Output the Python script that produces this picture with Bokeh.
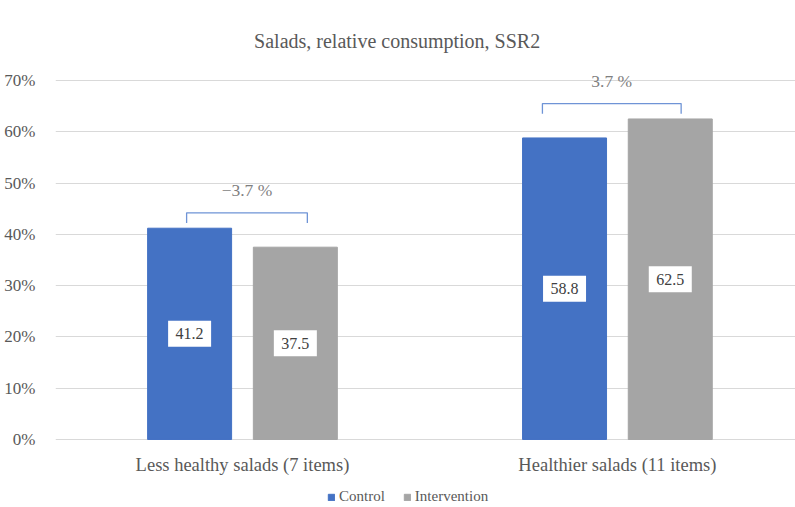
from bokeh.plotting import figure
from bokeh.models import ColumnDataSource, Range1d, FixedTicker, PrintfTickFormatter, Legend, LegendItem
from bokeh.core.properties import value
from bokeh.embed import file_html
from bokeh.resources import INLINE

# ---- data ----
title = "Salads, relative consumption, SSR2"
categories = ["Less healthy salads (7 items)", "Healthier salads (11 items)"]
series = ["Control", "Intervention"]
control = [41.2, 58.8]
intervention = [37.5, 62.5]
diff_labels = ["\u22123.7 %", "3.7 %"]
bracket_top = [44.2, 65.5]
bracket_drop = [2.0, 2.0]
bracket_left = [-0.149, -0.2]
bracket_right = [0.173, 0.17]
diff_text_y = [48.6, 70.0]
y_ticks = [0, 10, 20, 30, 40, 50, 60, 70]

FONT = "Liberation Serif"
BLUE = "#4472C4"
GREY = "#A5A5A5"
TXT = "#595959"

centers = [i + 0.5 for i in range(len(categories))]
off = 0.141
bw = 0.224

p = figure(width=795, height=507, output_backend="svg", toolbar_location=None,
           x_range=Range1d(0.0013, 1.975), y_range=Range1d(-13.26, 85.6),
           min_border_left=55, min_border_right=0, min_border_top=0, min_border_bottom=0)
p.outline_line_color = None
p.background_fill_color = "white"
p.xaxis.visible = False

src_c = ColumnDataSource(dict(x=[c - off for c in centers], top=control, mid=[v / 2 for v in control],
                              lab=[f"{v:.1f}" for v in control]))
src_i = ColumnDataSource(dict(x=[c + off for c in centers], top=intervention, mid=[v / 2 for v in intervention],
                              lab=[f"{v:.1f}" for v in intervention]))

r_c = p.vbar(x="x", top="top", bottom=0, width=bw, source=src_c, fill_color=BLUE, line_color=BLUE)
r_i = p.vbar(x="x", top="top", bottom=0, width=bw, source=src_i, fill_color=GREY, line_color=GREY)

for src in (src_c, src_i):
    p.rect(x="x", y="mid", width=43, height=26, width_units="screen", height_units="screen",
           source=src, fill_color="white", line_color=None)
    p.text(x="x", y="mid", text="lab", source=src, text_align="center", text_baseline="middle",
           text_font=value(FONT), text_font_size="16px", text_color="#404040")

# brackets
xs, ys = [], []
for c, t, d, l, r in zip(centers, bracket_top, bracket_drop, bracket_left, bracket_right):
    xs.append([c + l, c + l, c + r, c + r])
    ys.append([t - d, t, t, t - d])
p.multi_line(xs=xs, ys=ys, line_color="#6F94D6", line_width=1.3)

p.text(x=[c + (l + r) / 2 for c, l, r in zip(centers, bracket_left, bracket_right)], y=diff_text_y,
       text=diff_labels, text_align="center", text_baseline="middle",
       text_font=value(FONT), text_font_size="17.5px", text_color="#7F7F7F")

# category labels
p.text(x=centers, y=[-5.07] * len(centers), text=categories, text_align="center", text_baseline="middle",
       text_font=value(FONT), text_font_size="18.5px", text_color=TXT)

# title
p.text(x=[0.9125], y=[77.8], text=[title], text_align="center", text_baseline="middle",
       text_font=value(FONT), text_font_size="20px", text_color=TXT)

# y axis
p.yaxis.ticker = FixedTicker(ticks=y_ticks)
p.yaxis.formatter = PrintfTickFormatter(format="%d%%")
p.yaxis.major_tick_line_color = None
p.yaxis.minor_tick_line_color = None
p.yaxis.axis_line_color = None
p.yaxis.major_label_text_font = FONT
p.yaxis.major_label_text_font_size = "17px"
p.yaxis.major_label_text_color = TXT
p.yaxis.major_label_standoff = 14

p.xgrid.grid_line_color = None
p.ygrid.grid_line_color = "#D9D9D9"
p.ygrid.ticker = FixedTicker(ticks=y_ticks)

legend = Legend(items=[LegendItem(label=series[0], renderers=[r_c]),
                       LegendItem(label=series[1], renderers=[r_i])],
                orientation="horizontal", location=(272, 2),
                label_text_font=FONT, label_text_font_size="15px", label_text_color=TXT,
                glyph_width=8, glyph_height=8, spacing=18, label_standoff=4,
                border_line_color=None, background_fill_alpha=0, padding=0, margin=0)
p.add_layout(legend, "center")

open("out.html", "w").write(file_html(p, INLINE))
